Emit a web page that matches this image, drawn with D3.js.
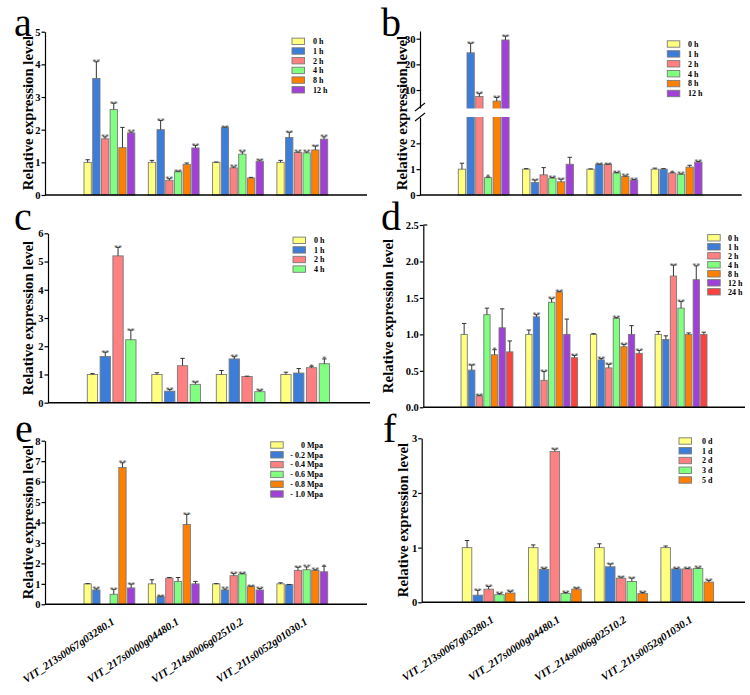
<!DOCTYPE html>
<html><head><meta charset="utf-8">
<script src="https://cdn.jsdelivr.net/npm/d3@7"></script>
<style>body{margin:0;background:#fff}svg{display:block}</style>
</head><body>
<svg id="chart" width="750" height="695"></svg>
<script>
const genes = ["VIT_213s0067g03280.1","VIT_217s0000g04480.1","VIT_214s0006g02510.2","VIT_211s0052g01030.1"];

// colours
const timeColors = ["#FFFF80","#3B7DD8","#FF8080","#80FF80","#FF8000","#A040D8","#FF4040"];

// panel a
const seriesA = ["0 h","1 h","2 h","4 h","8 h","12 h"];
const valuesA = [[1.0,3.57,1.72,2.62,1.45,1.90],[1.0,2.0,0.45,0.71,0.94,1.44],[1.0,2.06,0.83,1.25,0.52,1.03],[1.0,1.76,1.30,1.29,1.38,1.71]];
const errorsA = [[0.08,0.51,0.06,0.19,0.62,0.03],[0.06,0.28,0.05,0.02,0.04,0.08],[0.01,0.02,0.03,0.07,0.02,0.04],[0.06,0.16,0.02,0.03,0.12,0.07]];
const sigA = [["","**","**","**","","**"],["","**","**","**","","**"],["","**","**","**","","**"],["","**","**","**","**","**"]];
const ticksA = [0,1,2,3,4,5];

// panel b
const seriesB = ["0 h","1 h","2 h","4 h","8 h","12 h"];
const valuesB = [[1.0,24.5,7.5,0.67,5.7,29.5],[1.0,0.48,0.78,0.65,0.51,1.19],[1.0,1.18,1.18,0.85,0.72,0.58],[1.0,1.0,0.85,0.80,1.08,1.27]];
const errorsB = [[0.23,3.7,1.1,0.03,1.4,1.5],[0.02,0.1,0.28,0.03,0.1,0.27],[0.01,0.02,0.02,0.02,0.02,0.02],[0.04,0.02,0.03,0.02,0.07,0.03]];
const sigB = [["","**","**","*","**","**"],["","**","","**","**",""],["","**","**","**","**","**"],["","","*","**","","**"]];
const ticksBLow = [0,1,2];
const ticksBHigh = [10,20,30];

// panel c
const seriesC = ["0 h","1 h","2 h","4 h"];
const valuesC = [[1.0,1.64,5.2,2.23],[1.0,0.41,1.31,0.65],[1.0,1.55,0.93,0.39],[1.0,1.05,1.24,1.38]];
const errorsC = [[0.03,0.15,0.3,0.34],[0.06,0.06,0.26,0.08],[0.14,0.08,0.01,0.05],[0.08,0.16,0.05,0.17]];
const sigC = [["","**","**","**"],["","**","","**"],["","**","","**"],["","","*","*"]];
const ticksC = [0,1,2,3,4,5,6];

// panel d
const seriesD = ["0 h","1 h","2 h","4 h","8 h","12 h","24 h"];
const valuesD = [[1.0,0.51,0.155,1.27,0.72,1.09,0.76],[1.0,1.24,0.37,1.44,1.58,1.0,0.68],[1.0,0.65,0.54,1.22,0.83,1.0,0.74],[1.0,0.93,1.80,1.36,1.0,1.75,1.0]];
const errorsD = [[0.15,0.07,0.01,0.09,0.07,0.26,0.15],[0.06,0.03,0.12,0.05,0.01,0.21,0.03],[0.01,0.02,0.05,0.01,0.03,0.12,0.04],[0.04,0.05,0.15,0.09,0.02,0.19,0.03]];
const sigD = [["","**","**","","*","",""],["","**","**","**","**","","**"],["","**","**","**","**","","**"],["","","**","**","","**",""]];
const ticksD = [0,0.5,1.0,1.5,2.0,2.5];

// panel e
const seriesE = ["0 Mpa","- 0.2 Mpa","- 0.4 Mpa","- 0.6 Mpa","- 0.8 Mpa","- 1.0 Mpa"];
const valuesE = [[1.0,0.7,null,0.49,6.69,0.8],[1.0,0.37,1.28,1.12,3.9,1.0],[1.0,0.7,1.4,1.48,0.86,0.7],[1.0,0.96,1.66,1.69,1.66,1.59]];
const errorsE = [[0.01,0.06,0,0.24,0.23,0.19],[0.2,0.03,0.03,0.19,0.5,0.12],[0.01,0.05,0.1,0.03,0.03,0.07],[0.05,0.01,0.15,0.14,0.03,0.27]];
const sigE = [["","**","","**","**","**"],["","**","","","**",""],["","**","**","**","**","**"],["","","**","**","**","*"]];
const ticksE = [0,1,2,3,4,5,6,7,8];

// panel f
const seriesF = ["0 d","1 d","2 d","3 d","5 d"];
const valuesF = [[1.0,0.13,0.24,0.14,0.17],[1.0,0.6,2.76,0.16,0.24],[1.0,0.65,0.44,0.38,0.16],[1.0,0.61,0.61,0.62,0.37]];
const errorsF = [[0.13,0.09,0.05,0.02,0.03],[0.05,0.02,0.04,0.02,0.02],[0.07,0.05,0.02,0.06,0.02],[0.03,0.01,0.01,0.01,0.03]];
const sigF = [["","**","**","**","**"],["","**","**","**","**"],["","**","**","**","**"],["","**","**","**","**"]];
const ticksF = [0,1,2,3];

const svg = d3.select("#chart");
const SERIF = "'Liberation Serif','Times New Roman',serif";

const panels = [
 {L:"a", series:seriesA, vals:valuesA, errs:errorsA, sig:sigA, ticks:[ticksA], fmt:d3.format("d"),
  ax:45, xEnd:367, y0:195, yTop:31.7, yMax:5, g0:84, gStep:64.3, bStep:8.7, bW:7.3,
  leg:{x:292, y:41.3, dy:9.7, tx:313, anchor:"start"}, letter:[14,36], title:[32.5,113], genes:false},
 {L:"b", series:seriesB, vals:valuesB, errs:errorsB, sig:sigB, broken:true, fmt:d3.format("d"),
  ax:420, xEnd:741.7, y0:195, g0:458.3, gStep:64.3, bStep:8.7, bW:7.3,
  leg:{x:667.3, y:44, dy:9.9, tx:688, anchor:"start"}, letter:[381,36], title:[406.5,113], genes:false},
 {L:"c", series:seriesC, vals:valuesC, errs:errorsC, sig:sigC, ticks:[ticksC], fmt:d3.format("d"),
  ax:48, xEnd:370, y0:402.7, yTop:233.3, yMax:6, g0:87.3, gStep:64.5, bStep:12.8, bW:10.3,
  leg:{x:293, y:240.3, dy:9.6, tx:314, anchor:"start"}, letter:[14,230], title:[33,318], genes:false},
 {L:"d", series:seriesD, vals:valuesD, errs:errorsD, sig:sigD, ticks:[ticksD], fmt:d3.format(".1f"),
  ax:423.3, xEnd:745, y0:407.3, yTop:225, yMax:2.5, g0:461, gStep:64.7, bStep:7.6, bW:6.3, topTick:true,
  leg:{x:707.7, y:237.8, dy:9.0, tx:728, anchor:"start"}, letter:[381,230], title:[393,316], genes:false},
 {L:"e", series:seriesE, vals:valuesE, errs:errorsE, sig:sigE, ticks:[ticksE], fmt:d3.format("d"),
  ax:45, xEnd:367, y0:604.3, yTop:440.7, yMax:8, g0:84, gStep:64.3, bStep:8.7, bW:7.3,
  leg:{x:270.7, y:445, dy:9.8, tx:323, anchor:"end"}, letter:[15,442], title:[32.5,522], genes:true},
 {L:"f", series:seriesF, vals:valuesF, errs:errorsF, sig:sigF, ticks:[ticksF], fmt:d3.format("d"),
  ax:421.7, xEnd:745, y0:602.3, yTop:438.3, yMax:3, g0:462.3, gStep:66.2, bStep:10.8, bW:9.5,
  leg:{x:679, y:441, dy:9.75, tx:702, anchor:"start"}, letter:[383,442], title:[407.5,520], genes:true}
];

panels.forEach(p => {
  const g = svg.append("g");
  const n = p.series.length;
  const groupW = (n-1)*p.bStep + p.bW;
  const x0 = d3.scaleBand().domain(genes).range([p.g0, p.g0 + 3*p.gStep + groupW])
      .paddingInner(1 - groupW/p.gStep).paddingOuter(0);
  const x1 = d3.scaleBand().domain(p.series).range([0, x0.bandwidth()])
      .paddingInner(1 - p.bW/p.bStep).paddingOuter(0);

  let yPos, scales = [];
  if (p.broken) {
    const yLow = d3.scaleLinear().domain([0,3]).range([p.y0, 117.5]);
    const yHigh = d3.scaleLinear().domain([3,33]).range([108, 31]);
    yPos = v => v <= 3 ? yLow(v) : yHigh(v);
    scales = [[yLow, ticksBLow],[yHigh, ticksBHigh]];
  } else {
    const y = d3.scaleLinear().domain([0, p.yMax]).range([p.y0, p.yTop]);
    yPos = y;
    scales = [[y, p.ticks[0]]];
  }

  // bars
  genes.forEach((gene, gi) => {
    p.series.forEach((s, si) => {
      const v = p.vals[gi][si];
      if (v == null) return;
      const bx = x0(gene) + x1(s);
      const top = yPos(v);
      g.append("rect").attr("x", bx).attr("y", top).attr("width", x1.bandwidth())
        .attr("height", p.y0 - top).attr("fill", timeColors[si])
        .attr("stroke", "#7a7a7a").attr("stroke-width", 0.9);
      const e = p.errs[gi][si];
      const cx = bx + x1.bandwidth()/2;
      const et = yPos(v + e);
      if (e > 0) {
        g.append("line").attr("x1", cx).attr("x2", cx).attr("y1", top).attr("y2", et)
          .attr("stroke", "#333").attr("stroke-width", 1);
        g.append("line").attr("x1", cx - 2.2).attr("x2", cx + 2.2).attr("y1", et).attr("y2", et)
          .attr("stroke", "#333").attr("stroke-width", 1);
      }
      const sg = p.sig[gi][si];
      if (sg) {
        g.append("text").attr("x", cx).attr("y", et + 3.5).attr("text-anchor", "middle")
          .attr("font-family", SERIF).attr("font-size", 8).attr("fill", "#555").text(sg);
      }
    });
  });

  if (p.broken) {
    g.append("rect").attr("x", p.ax + 1).attr("y", 108.5).attr("width", p.xEnd - p.ax).attr("height", 8.5)
      .attr("fill", "#fff");
  }

  // y axes
  scales.forEach(([sc, tv]) => {
    const a = d3.axisLeft(sc).tickValues(tv).tickSize(3.5).tickSizeOuter(0).tickFormat(p.fmt);
    const ag = g.append("g").attr("transform", `translate(${p.ax},0)`).call(a);
    ag.select(".domain").attr("stroke", "#000").attr("stroke-width", 1.2);
    ag.selectAll(".tick line").attr("stroke", "#000").attr("stroke-width", 1.2);
    ag.selectAll(".tick text").attr("font-family", SERIF).attr("font-weight", "bold")
      .attr("font-size", 10.5).attr("fill", "#000").attr("x", -4.5);
  });
  if (p.broken) {
    g.append("line").attr("x1", p.ax - 5).attr("y1", 111).attr("x2", p.ax + 5).attr("y2", 103)
      .attr("stroke", "#000").attr("stroke-width", 1.1);
    g.append("line").attr("x1", p.ax - 5).attr("y1", 121).attr("x2", p.ax + 5).attr("y2", 113)
      .attr("stroke", "#000").attr("stroke-width", 1.1);
  }
  if (p.topTick) {
    g.append("line").attr("x1", p.ax).attr("x2", p.ax + 4).attr("y1", p.yTop).attr("y2", p.yTop)
      .attr("stroke", "#000").attr("stroke-width", 1.2);
  }

  // x axis line
  g.append("line").attr("x1", p.ax).attr("x2", p.xEnd).attr("y1", p.y0).attr("y2", p.y0)
    .attr("stroke", "#000").attr("stroke-width", 1.6);

  // y title
  g.append("text").attr("transform", `translate(${p.title[0]},${p.title[1]}) rotate(-90)`)
    .attr("text-anchor", "middle").attr("font-family", SERIF).attr("font-weight", "bold")
    .attr("font-size", 14.8).text("Relative expression level");

  // panel letter
  g.append("text").attr("x", p.letter[0]).attr("y", p.letter[1]).attr("font-family", SERIF)
    .attr("font-size", 40).text(p.L);

  // legend
  p.series.forEach((s, si) => {
    const cy = p.leg.y + si*p.leg.dy;
    g.append("rect").attr("x", p.leg.x).attr("y", cy - 3.2).attr("width", 12.5).attr("height", 6.4)
      .attr("fill", timeColors[si]).attr("stroke", "#7a7a7a").attr("stroke-width", 0.9);
    g.append("text").attr("x", p.leg.tx).attr("y", cy + 2.8).attr("text-anchor", p.leg.anchor)
      .attr("font-family", SERIF).attr("font-weight", "bold").attr("font-size", 8).text(s);
  });

  // gene labels
  if (p.genes) {
    genes.forEach(gene => {
      const cx = x0(gene) + x0.bandwidth()/2;
      g.append("text").attr("transform", `translate(${cx + 6},${p.y0 + 19}) rotate(-34)`)
        .attr("text-anchor", "end").attr("font-family", SERIF).attr("font-weight", "bold")
        .attr("font-style", "italic").attr("font-size", 11).text(gene);
    });
  }
});
</script>
</body></html>
